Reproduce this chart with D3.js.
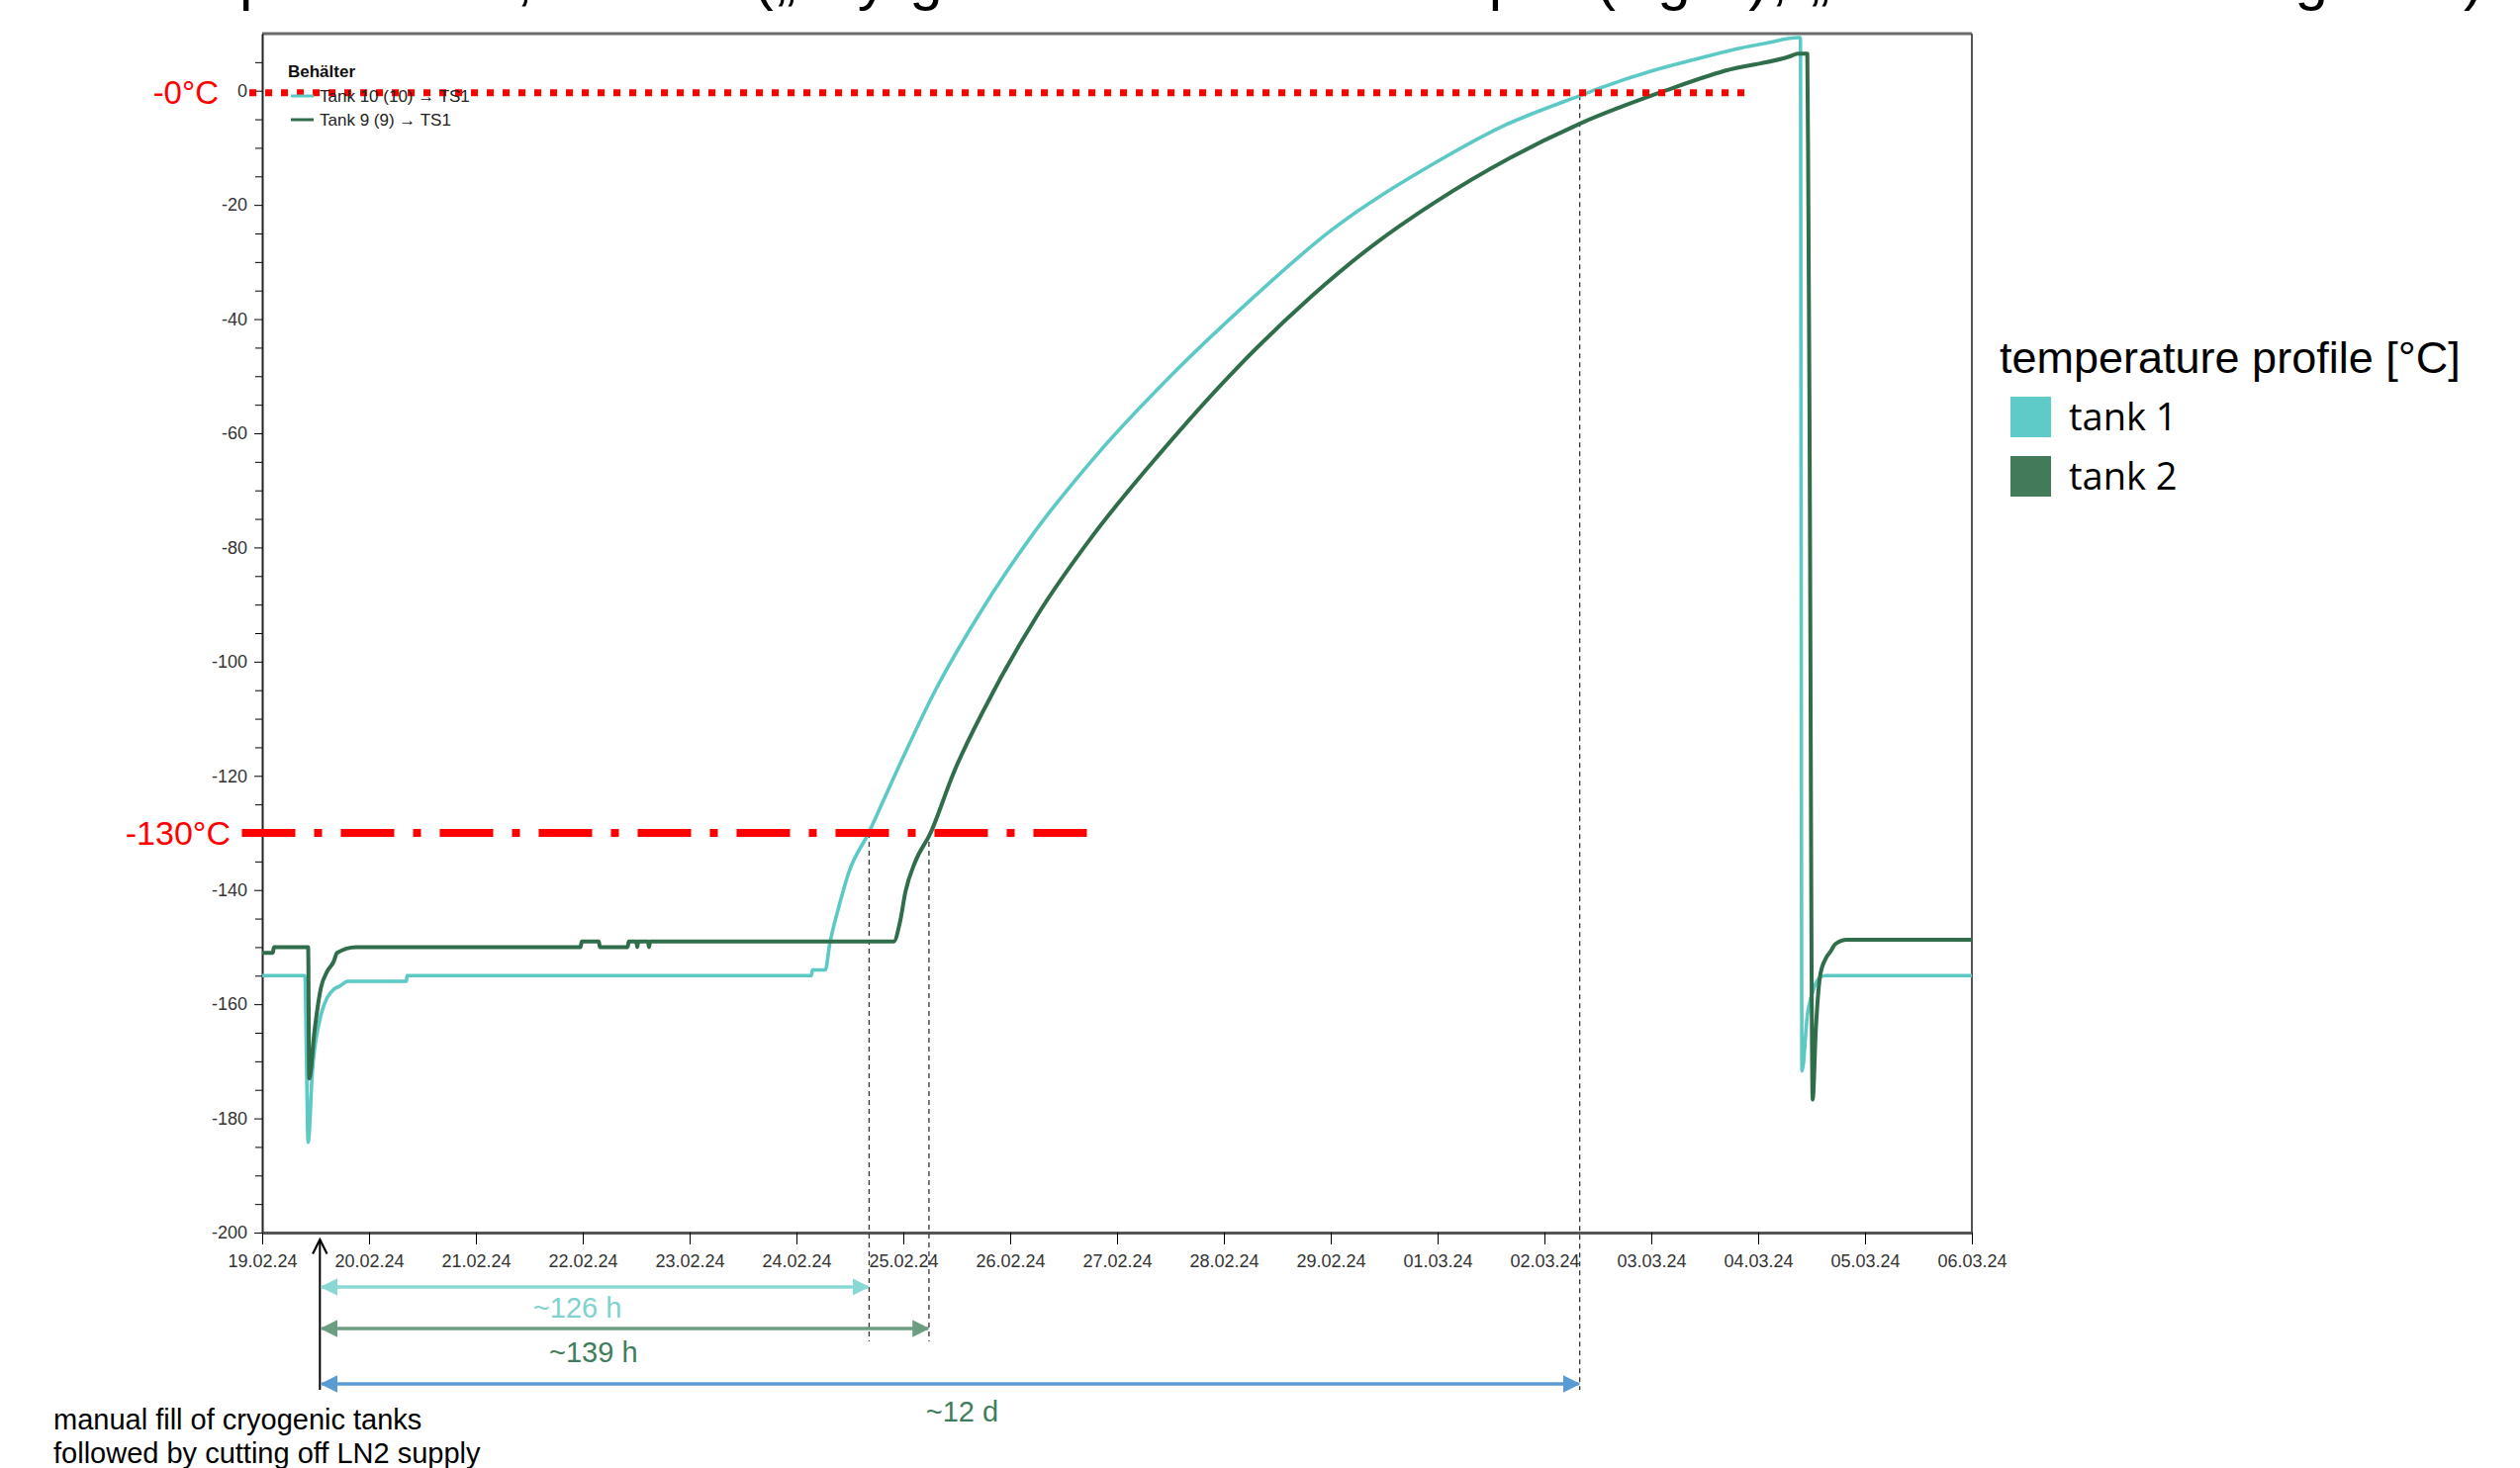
<!DOCTYPE html>
<html>
<head>
<meta charset="utf-8">
<script src="https://cdnjs.cloudflare.com/ajax/libs/d3/7.8.5/d3.min.js"></script>
<style>
  body { margin: 0; background: #fff; }
  svg { display: block; }
</style>
</head>
<body>
<svg id="chart" width="2547" height="1484"></svg>
<script>
/* global d3 */

// day offsets from 19.02.24 00:00, temperatures in °C
var dayLabels = ['19.02.24', '20.02.24', '21.02.24', '22.02.24', '23.02.24', '24.02.24', '25.02.24', '26.02.24',
  '27.02.24', '28.02.24', '29.02.24', '01.03.24', '02.03.24', '03.03.24', '04.03.24', '05.03.24', '06.03.24'];

var tank1Days = [0, 0.40, 0.415, 0.43, 0.47, 0.53, 0.61, 0.67, 0.73, 0.80, 1.35, 1.355, 5.14, 5.15, 5.27, 5.31,
  5.40, 5.49, 5.67, 5.93, 6.30, 6.70, 7.20, 7.80, 8.50, 9.20, 10.00, 10.97, 11.60, 12.34, 12.51, 13.01, 13.41,
  13.84, 14.09, 14.37, 14.395, 14.41, 14.46, 14.52, 14.58, 14.63, 16];
var tank1Temps = [-155, -155, -170, -184.2, -171.6, -163.5, -158.8, -157.4, -156.8, -156, -156, -155, -155, -154, -154, -149.6,
  -142.7, -136.9, -130.2, -119.5, -105, -92, -78, -64, -50, -37.5, -24.5, -12.7, -6.3, -0.8, 0.4, 3.5, 5.5,
  7.5, 8.4, 9.3, 9.3, -171.7, -162, -157.3, -155.3, -155, -155];

var tank2Days = [0, 0.10, 0.11, 0.43, 0.44, 0.49, 0.55, 0.61, 0.67, 0.70, 0.88, 2.98, 2.99, 3.15, 3.16, 3.42, 3.43,
  3.50, 3.51, 3.52, 3.61, 3.62, 3.63, 5.91, 5.97, 6.02, 6.11, 6.25, 6.47, 6.85, 7.25, 7.77, 8.38, 9.10, 9.82,
  10.40, 10.97, 12.34, 13.13, 13.69, 14.31, 14.37, 14.46, 14.47, 14.48, 14.51, 14.54, 14.58, 14.63, 14.68, 14.72,
  14.83, 16];
var tank2Temps = [-151, -151, -150, -150, -173, -164.6, -157.1, -154.2, -152.5, -151, -150, -150, -149, -149, -150, -150, -149,
  -149, -150, -149, -149, -150, -149, -149, -145.5, -140.3, -135.1, -130.2, -119.5, -105, -92, -78, -64, -49, -36,
  -27, -19.6, -5.7, 0, 3.5, 6.1, 6.5, 6.5, -20, -55, -176.7, -164.3, -155, -152.1, -150.7, -149.5,
  -148.7, -148.7];

var seriesNames = ['tank 1', 'tank 2'];
var innerLegendNames = ['Tank 10 (10) \u2192 TS1', 'Tank 9 (9) \u2192 TS1'];

// limits (°C) and the marked crossing times (days)
var limitZero = { value: 0, from: -0.12, to: 13.9, label: '-0\u00b0C' };
var limitCryo = { value: -130, from: -0.19, to: 7.8, label: '-130\u00b0C' };
var fillDay = 0.54;
var crossTank1 = 5.68, crossTank2 = 6.24, crossZero = 12.33;
var spanLabels = ['~126 h', '~139 h', '~12 d'];

var svg = d3.select('#chart');
var FONT = "'Liberation Sans Narrow', 'Liberation Sans', Arial, sans-serif";
var SANS = "'Liberation Sans', Arial, sans-serif";

var plotLeft = 265, plotRight = 1993, plotTop = 34, plotBottom = 1246;

var x = d3.scaleLinear().domain([0, 16]).range([plotLeft, plotRight]);
var y = d3.scaleLinear().domain([-200, 10]).range([plotBottom, plotTop]);

var colors = { tank1: '#5cc9c5', tank2: '#2f6d4b' };

// cut-off slide title (only the descenders show)
svg.append('text')
  .attr('x', 120).attr('y', -1)
  .attr('textLength', 2390).attr('lengthAdjust', 'spacing')
  .style('font-family', SANS).style('font-size', '60px')
  .text('Temperatures, tank 1 (\u201edry gas\u201c test to the sample (right), \u201ecold tank heating\u201c left)');

// frame
svg.append('line').attr('x1', plotLeft).attr('x2', plotRight).attr('y1', plotTop).attr('y2', plotTop)
  .attr('stroke', '#6a6a6a').attr('stroke-width', 3);
svg.append('line').attr('x1', plotRight).attr('x2', plotRight).attr('y1', plotTop).attr('y2', plotBottom)
  .attr('stroke', '#555').attr('stroke-width', 2);

// minor y ticks
var minor = d3.range(-195, 10, 5).filter(function(v) { return v % 20 !== 0; });
svg.append('g').attr('transform', 'translate(' + plotLeft + ',0)')
  .call(d3.axisLeft(y).tickValues(minor).tickSize(7).tickFormat(''))
  .call(function(g) { g.select('.domain').remove(); });

// y axis
var yAxis = svg.append('g').attr('transform', 'translate(' + plotLeft + ',0)')
  .call(d3.axisLeft(y).tickValues(d3.range(-200, 1, 20)).tickSize(8).tickSizeOuter(0).tickPadding(7)
    .tickFormat(function(d) { return String(d); }));
yAxis.select('.domain').attr('stroke', '#222').attr('stroke-width', 2);
yAxis.selectAll('text').style('font-family', FONT).style('font-size', '18px').attr('fill', '#333');

// x axis
var xAxis = svg.append('g').attr('transform', 'translate(0,' + plotBottom + ')')
  .call(d3.axisBottom(x).tickValues(d3.range(0, 17)).tickSize(12).tickSizeOuter(0).tickPadding(10)
    .tickFormat(function(d) { return dayLabels[d]; }));
xAxis.select('.domain').attr('stroke', '#555').attr('stroke-width', 3);
xAxis.selectAll('text').style('font-family', FONT).style('font-size', '18px').attr('fill', '#333');

// dashed helper lines at the crossings
function vDash(day, fromVal, toPx) {
  svg.append('line')
    .attr('x1', x(day)).attr('x2', x(day))
    .attr('y1', y(fromVal)).attr('y2', toPx)
    .attr('stroke', '#333').attr('stroke-width', 1.3).attr('stroke-dasharray', '5,4');
}
vDash(crossTank1, -130, 1356);
vDash(crossTank2, -130, 1356);
vDash(crossZero, -0.8, 1405);

// series
var line = d3.line()
  .curve(d3.curveMonotoneX)
  .x(function(d) { return x(d[0]); })
  .y(function(d) { return y(d[1]); });

var tank1 = d3.zip(tank1Days, tank1Temps);
var tank2 = d3.zip(tank2Days, tank2Temps);

svg.append('path').datum(tank1)
  .attr('d', line).attr('fill', 'none')
  .attr('stroke', colors.tank1).attr('stroke-width', 3.6).attr('stroke-linejoin', 'round');
svg.append('path').datum(tank2)
  .attr('d', line).attr('fill', 'none')
  .attr('stroke', colors.tank2).attr('stroke-width', 4).attr('stroke-linejoin', 'round');

// limit lines
svg.append('line')
  .attr('x1', x(limitZero.from)).attr('x2', x(limitZero.to))
  .attr('y1', y(limitZero.value) + 2).attr('y2', y(limitZero.value) + 2)
  .attr('stroke', '#ff0000').attr('stroke-width', 7).attr('stroke-dasharray', '7,9');
svg.append('line')
  .attr('x1', x(limitCryo.from)).attr('x2', x(limitCryo.to))
  .attr('y1', y(limitCryo.value)).attr('y2', y(limitCryo.value))
  .attr('stroke', '#ff0000').attr('stroke-width', 8).attr('stroke-dasharray', '54,19,8,19');

svg.append('text').attr('x', 221).attr('y', y(limitZero.value) + 13)
  .attr('text-anchor', 'end').attr('fill', '#ff0000')
  .style('font-family', SANS).style('font-size', '33px')
  .text(limitZero.label);
svg.append('text').attr('x', 233).attr('y', y(limitCryo.value) + 12)
  .attr('text-anchor', 'end').attr('fill', '#ff0000')
  .style('font-family', SANS).style('font-size', '34px')
  .text(limitCryo.label);

// inner legend (from the logger software)
var innerLegend = svg.append('g').attr('transform', 'translate(291,0)');
innerLegend.append('text').attr('x', 0).attr('y', 78)
  .style('font-family', FONT).style('font-size', '17px').style('font-weight', 'bold').attr('fill', '#111')
  .text('Beh\u00e4lter');
[colors.tank1, colors.tank2].forEach(function(c, i) {
  innerLegend.append('line').attr('x1', 3).attr('x2', 26).attr('y1', 97 + i * 24).attr('y2', 97 + i * 24)
    .attr('stroke', c).attr('stroke-width', 3);
  innerLegend.append('text').attr('x', 32).attr('y', 103 + i * 24)
    .style('font-family', FONT).style('font-size', '17px').attr('fill', '#222')
    .text(innerLegendNames[i]);
});

// right legend
var legend = svg.append('g').attr('transform', 'translate(2021,0)');
legend.append('text').attr('x', 0).attr('y', 377)
  .style('font-family', SANS).style('font-size', '45px').attr('fill', '#000')
  .text('temperature profile [\u00b0C]');
var legendColors = ['#5ecbc8', '#427a5a'];
seriesNames.forEach(function(name, i) {
  legend.append('rect').attr('x', 11).attr('y', 401 + i * 60).attr('width', 41).attr('height', 41)
    .attr('fill', legendColors[i]);
  legend.append('text').attr('x', 70).attr('y', 435 + i * 60)
    .style('font-family', "'Open Sans', sans-serif").style('font-size', '38px').attr('fill', '#000')
    .text(name);
});

// arrow heads
var defs = svg.append('defs');
function head(id, color) {
  defs.append('marker').attr('id', id)
    .attr('viewBox', '0 0 10 10').attr('refX', 9).attr('refY', 5)
    .attr('markerWidth', 5).attr('markerHeight', 5).attr('markerUnits', 'strokeWidth')
    .attr('orient', 'auto-start-reverse')
    .append('path').attr('d', 'M0,0 L10,5 L0,10 Z').attr('fill', color);
}
head('h-cyan', '#8ad8d4');
head('h-green', '#6e9e82');
head('h-blue', '#5b9bd5');
defs.append('marker').attr('id', 'h-open')
  .attr('viewBox', '0 0 10 10').attr('refX', 9).attr('refY', 5)
  .attr('markerWidth', 9).attr('markerHeight', 9).attr('markerUnits', 'strokeWidth')
  .attr('orient', 'auto')
  .append('path').attr('d', 'M1,1 L9,5 L1,9').attr('fill', 'none').attr('stroke', '#000').attr('stroke-width', 1.2);

// fill marker arrow
svg.append('line').attr('x1', x(fillDay)).attr('x2', x(fillDay)).attr('y1', 1405).attr('y2', 1253)
  .attr('stroke', '#000').attr('stroke-width', 2).attr('marker-end', 'url(#h-open)');

// span arrows
var spans = [
  { to: crossTank1, yPx: 1301, color: '#8ad8d4', head: 'h-cyan', text: '#7fd2ce', labelDay: 2.95, labelY: 1332 },
  { to: crossTank2, yPx: 1343, color: '#6e9e82', head: 'h-green', text: '#3f7e5c', labelDay: 3.1, labelY: 1377 },
  { to: crossZero, yPx: 1399, color: '#5b9bd5', head: 'h-blue', text: '#3f7e5c', labelDay: 6.55, labelY: 1437 }
];
spans.forEach(function(s, i) {
  svg.append('line').attr('x1', x(fillDay) + 2).attr('x2', x(s.to) - 1).attr('y1', s.yPx).attr('y2', s.yPx)
    .attr('stroke', s.color).attr('stroke-width', 3.5)
    .attr('marker-start', 'url(#' + s.head + ')').attr('marker-end', 'url(#' + s.head + ')');
  svg.append('text').attr('x', x(s.labelDay)).attr('y', s.labelY)
    .attr('text-anchor', 'middle').attr('fill', s.text)
    .style('font-family', SANS).style('font-size', '29px')
    .text(spanLabels[i]);
});

// note
svg.append('text').attr('x', 54).attr('y', 1445)
  .style('font-family', SANS).style('font-size', '29px').attr('fill', '#000')
  .text('manual fill of cryogenic tanks');
svg.append('text').attr('x', 54).attr('y', 1479)
  .style('font-family', SANS).style('font-size', '29px').attr('fill', '#000')
  .text('followed by cutting off LN2 supply');
</script>
</body>
</html>
